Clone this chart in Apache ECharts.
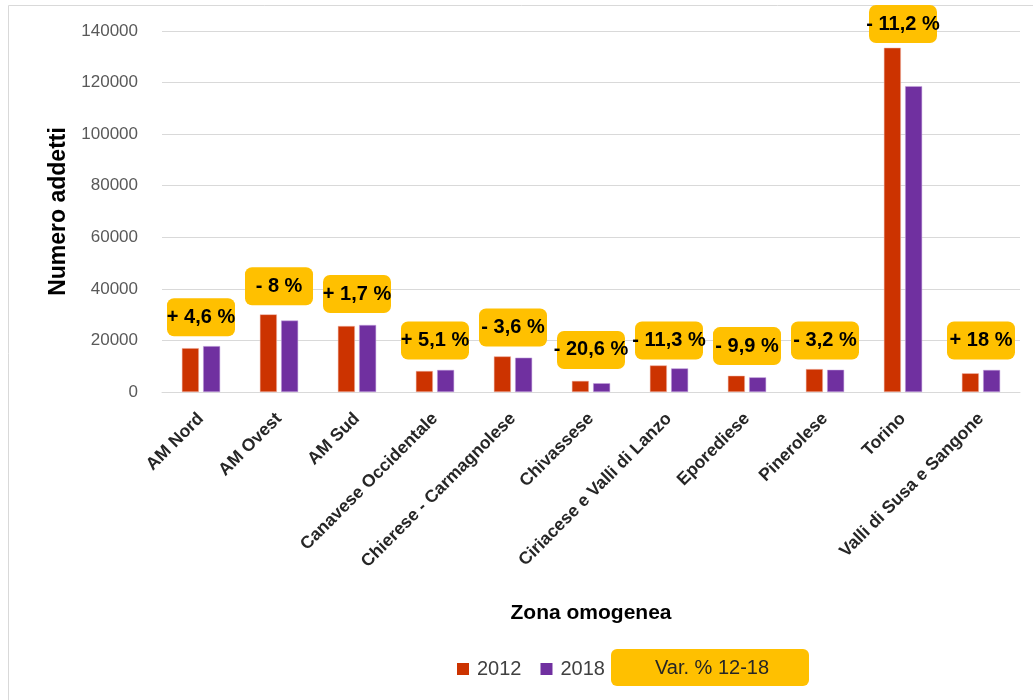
<!DOCTYPE html>
<html>
<head>
<meta charset="utf-8">
<script src="https://cdn.jsdelivr.net/npm/echarts@6/dist/echarts.min.js"></script>
<style>
html,body{margin:0;padding:0;background:#fff;}
#chart{width:1033px;height:700px;}
</style>
</head>
<body>
<div id="chart"></div>
<script>
const categories = ["AM Nord","AM Ovest","AM Sud","Canavese Occidentale","Chierese - Carmagnolese","Chivassese","Ciriacese e Valli di Lanzo","Eporediese","Pinerolese","Torino","Valli di Susa e Sangone"];
const values2012 = [17000, 30100, 25600, 8150, 13800, 4300, 10300, 6300, 8900, 133500, 7250];
const values2018 = [17800, 27700, 26000, 8560, 13300, 3400, 9150, 5680, 8620, 118600, 8550];
const varLabels = ["+ 4,6 %","- 8 %","+ 1,7 %","+ 5,1 %","- 3,6 %","- 20,6 %","- 11,3 %","- 9,9 %","- 3,2 %","- 11,2 %","+ 18 %"];
// vertical anchor (in axis units) of each variation callout
const varLabelLevels = [29000, 41000, 38000, 20000, 25000, 16300, 20000, 17800, 20000, 142700, 20000];
const yTicks = {min: 0, max: 140000, interval: 20000};
const varLegendText = 'Var. % 12-18';

const chart = echarts.init(document.getElementById('chart'));
const FONT = '"Liberation Sans", Arial, sans-serif';
chart.setOption({
  animation: false,
  textStyle: {fontFamily: FONT},
  grid: {left: 162, right: 13, top: 31, bottom: 308, containLabel: false},
  graphic: [
    {type: 'rect', silent: true, z: -10,
     shape: {x: 8.5, y: 5.5, width: 1030, height: 710},
     style: {fill: 'none', stroke: '#d9d9d9', lineWidth: 1}},
    {type: 'rect', silent: true, z: 10,
     shape: {x: 611, y: 649, width: 198, height: 37, r: 6},
     style: {fill: '#FFC000'}},
    {type: 'text', silent: true, z: 11, x: 712, y: 668,
     style: {text: varLegendText, fontSize: 20, fill: '#262626', fontFamily: FONT,
             textAlign: 'center', textVerticalAlign: 'middle'}}
  ],
  legend: {
    left: 457, top: 659, padding: 0,
    itemWidth: 12, itemHeight: 12, itemGap: 19,
    itemStyle: {borderWidth: 0},
    textStyle: {fontSize: 20, color: '#404040', fontFamily: FONT, padding: [0, 0, 0, 3]},
    data: [{name: '2012', icon: 'rect'}, {name: '2018', icon: 'rect'}]
  },
  xAxis: {
    type: 'category',
    data: categories,
    name: 'Zona omogenea',
    nameLocation: 'middle',
    nameGap: 211,
    nameTextStyle: {fontSize: 21, fontWeight: 'bold', color: '#000'},
    axisLine: {lineStyle: {color: '#d9d9d9'}},
    axisTick: {show: false},
    axisLabel: {rotate: 45, fontSize: 17.5, fontWeight: 'bold', color: '#262626', margin: 24, interval: 0}
  },
  yAxis: {
    type: 'value',
    min: yTicks.min, max: yTicks.max, interval: yTicks.interval,
    name: 'Numero addetti',
    nameLocation: 'middle',
    nameGap: 91,
    nameTextStyle: {fontSize: 23, fontWeight: 'bold', color: '#000'},
    axisLine: {show: false},
    axisTick: {show: false},
    axisLabel: {fontSize: 17, color: '#595959', margin: 24, formatter: v => String(v)},
    splitLine: {lineStyle: {color: '#d9d9d9', width: 1}}
  },
  series: [
    {name: '2012', type: 'bar', data: values2012, barWidth: 17, barGap: '25%',
     itemStyle: {color: '#CC3300', borderColor: '#f0b7a8', borderWidth: 0.5}},
    {name: '2018', type: 'bar', data: values2018, barWidth: 17,
     itemStyle: {color: '#7030A0', borderColor: '#c9a8e0', borderWidth: 0.5}},
    {name: 'Var. % 12-18', type: 'scatter', data: varLabelLevels, symbolSize: 1,
     clip: false, z: 5,
     itemStyle: {color: '#FFC000', opacity: 0},
     label: {
       show: true, position: 'inside',
       formatter: p => varLabels[p.dataIndex],
       backgroundColor: '#FFC000', borderRadius: 7,
       width: 68, height: 38, lineHeight: 38, align: 'center', verticalAlign: 'middle',
       fontSize: 20, fontWeight: 'bold', color: '#000', opacity: 1
     }}
  ]
});
</script>
</body>
</html>
